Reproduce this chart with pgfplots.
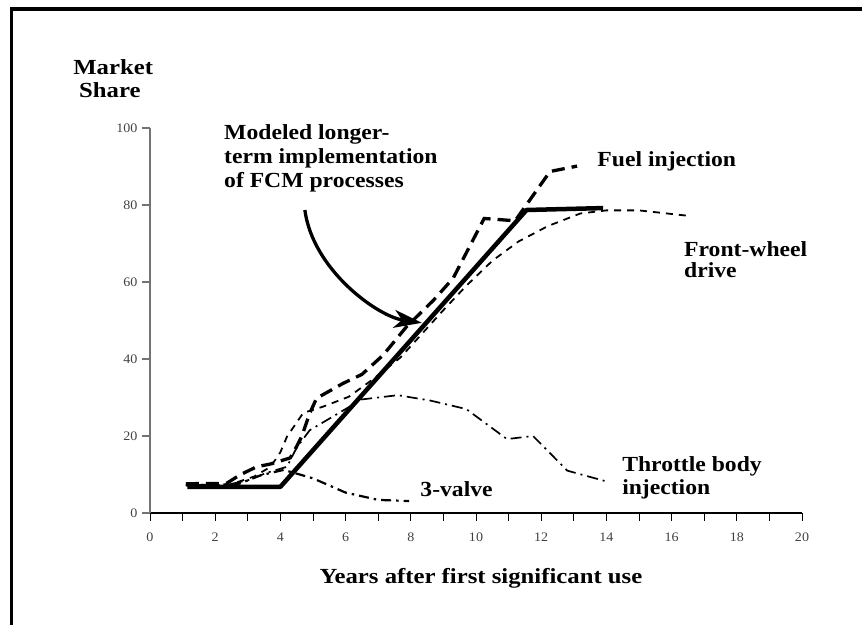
\documentclass[border=0pt]{standalone}
\usepackage{fontspec}
\setmainfont{Liberation Serif}
\newfontfamily\wfont[FakeStretch=1.1]{Liberation Serif}
\newfontfamily\xfont[FakeStretch=1.15]{Liberation Serif}
\newfontfamily\tfont[FakeStretch=1.08]{Liberation Serif}
\usepackage{pgfplots}
\pgfplotsset{compat=1.18}
\usetikzlibrary{arrows.meta}
\newcommand{\lbl}{\wfont\bfseries\fontsize{21.5bp}{23bp}\selectfont}
\newcommand{\mylbl}{\xfont\bfseries\fontsize{21.5bp}{23bp}\selectfont}
\begin{document}
\begin{tikzpicture}
\begin{axis}[
  at={(150bp,112bp)}, anchor=south west,
  width=652bp, height=385bp, scale only axis,
  xmin=0, xmax=20, ymin=0, ymax=100,
  axis x line=bottom, axis y line=left,
  x axis line style={black, line width=1.1bp, -},
  y axis line style={black!55, line width=1.7bp, -},
  clip=false,
  xtick={0,2,...,20}, minor xtick={1,3,...,19}, ytick={0,20,...,100},
  tick align=outside, major tick length=8bp, minor tick length=8bp,
  xtick style={black, line width=1bp},
  minor tick style={black, line width=1bp},
  ytick style={black!55, line width=1.5bp},
  /pgf/number format/assume math mode=true,
  ticklabel style={font=\tfont\fontsize{13bp}{13bp}\selectfont, text=black!75},
  xticklabel shift=8bp,
  yticklabel shift=1bp,
]
% Throttle body injection
\addplot[black, line width=1.7bp, dash pattern=on 11bp off 5bp on 2bp off 5bp] coordinates {
 (1.1,7.2) (2.3,7.2) (3.0,8.5) (3.6,10.5) (4.2,12) (4.5,17) (4.9,21.5) (5.9,26.5)
 (6.5,29.5) (7.6,30.6) (8.6,29.2) (9.7,27) (10.95,19.2) (11.75,20) (12.8,11) (14.0,8.2)};
% 3-valve
\addplot[black, line width=2.2bp, dash pattern=on 10bp off 5bp on 2.5bp off 5bp] coordinates {
 (1.1,7.2) (2.7,7.5) (3.4,9.8) (4.1,11.2) (5.0,9) (6.0,5.3) (7.0,3.4) (7.95,3.1)};
% Front-wheel drive
\addplot[black, line width=1.8bp, dash pattern=on 7bp off 6bp] coordinates {
 (1.1,7.2) (2.5,7.5) (3.2,9.5) (3.7,12) (4.0,15.8) (4.2,19.8) (4.7,26) (5.3,27.6)
 (6.1,30.2) (6.8,34.5) (7.67,40.3) (8.07,44) (9.0,52.7) (9.7,59) (10.5,65.5)
 (11.3,70.5) (12.2,74.5) (13.2,77.8) (14,78.6) (15,78.6) (16.5,77.2)};
% Fuel injection
\addplot[black, line width=3.3bp, dash pattern=on 13bp off 7bp] coordinates {
 (1.1,7.6) (2.35,7.7) (2.76,9.9) (3.27,12) (3.68,12.7) (4.3,14.3) (4.45,16.5) (4.65,19.8)
 (4.9,25.9) (5.11,29.8) (5.93,33.7) (6.5,36) (7.15,41) (7.87,48.4) (8.7,55.3)
 (9.3,61) (10.25,76.5) (11.2,75.9) (12.27,88.7) (13.1,90.1)};
% Modeled
\addplot[black, line width=4.5bp, line join=round] coordinates {
 (1.15,6.8) (4.0,6.8) (11.55,78.7) (13.9,79.2)};
% arrow
\draw[black, line width=3.3bp, -{Stealth[length=28bp,width=18bp,inset=8bp]}]
  (axis cs:4.75,78.7) .. controls (axis cs:5.0,63) and (axis cs:7.0,51) .. (axis cs:8.34,49.4);
% labels
\node[anchor=base west, font=\lbl, inner sep=0] at (axis cs:2.27,97.1) {Modeled longer-};
\node[anchor=base west, font=\lbl, inner sep=0] at (axis cs:2.27,90.87) {term implementation};
\node[anchor=base west, font=\lbl, inner sep=0] at (axis cs:2.27,84.6) {of FCM processes};
\node[anchor=base west, font=\lbl, inner sep=0] at (axis cs:13.72,90.0) {Fuel injection};
\node[anchor=base west, font=\lbl, inner sep=0] at (axis cs:16.38,66.7) {Front-wheel};
\node[anchor=base west, font=\lbl, inner sep=0] at (axis cs:16.38,61.1) {drive};
\node[anchor=base west, font=\lbl, inner sep=0] at (axis cs:14.48,10.7) {Throttle body};
\node[anchor=base west, font=\lbl, inner sep=0] at (axis cs:14.48,4.7) {injection};
\node[anchor=base west, font=\lbl, inner sep=0] at (axis cs:8.29,4.2) {3-valve};
\node[anchor=base, font=\mylbl, inner sep=0] at (axis cs:10.15,-18.4) {Years after first significant use};
\node[anchor=base, font=\mylbl, inner sep=0] at (axis cs:-1.13,113.8) {Market};
\node[anchor=base, font=\mylbl, inner sep=0] at (axis cs:-1.23,107.8) {Share};
\end{axis}
\draw[black, line width=3.3bp, line join=miter] (11.7bp,0bp) -- (11.7bp,616bp) -- (862bp,616bp);
\pgfresetboundingbox
\useasboundingbox (0bp,0bp) rectangle (862bp,625bp);
\end{tikzpicture}
\end{document}
